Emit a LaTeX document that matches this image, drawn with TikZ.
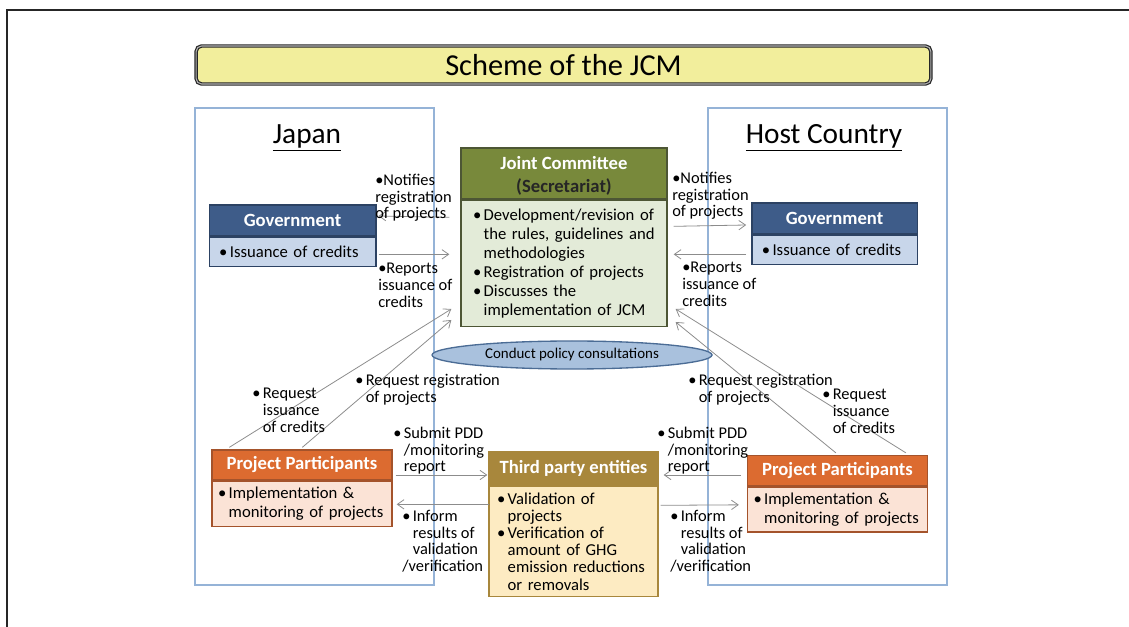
\documentclass[tikz,border=0pt]{standalone}
\usepackage{fontspec}
\setmainfont{Carlito}
\usepackage{tikz}
\usetikzlibrary{positioning, arrows.meta, shapes.geometric}

\definecolor{panelblue}{HTML}{95B3D7}
\definecolor{titleyellow}{HTML}{F2EE9C}
\definecolor{govdark}{HTML}{3E5C89}
\definecolor{govlight}{HTML}{C8D6EA}
\definecolor{govline}{HTML}{2C4263}
\definecolor{jcdark}{HTML}{78893B}
\definecolor{jclight}{HTML}{E3EBD8}
\definecolor{jcline}{HTML}{4D5635}
\definecolor{ellfill}{HTML}{A9C1DD}
\definecolor{ellline}{HTML}{4B6C95}
\definecolor{ppdark}{HTML}{DC6B30}
\definecolor{pplight}{HTML}{FBE3D6}
\definecolor{ppline}{HTML}{A4532B}
\definecolor{tpdark}{HTML}{A8873C}
\definecolor{tplight}{HTML}{FDEBC2}
\definecolor{arrowgray}{HTML}{8C8C8C}

\newcommand{\bl}{\textbullet\hspace{1.8pt}} % bullet of a list line
\newcommand{\hb}{\hphantom{\bl}} % hanging indent after a bullet

\tikzset{
x=0.75pt, y=-0.75pt, % one unit is one pixel of the slide
flow/.style={draw=arrowgray, line width=0.6pt, -{Straight Barb[length=5pt, width=7pt]}}, % thin gray arrows
panel/.style={draw=panelblue, line width=1.4pt}, % country frames
head/.style={draw, text=white, inner sep=0pt, line width=1pt, align=center, font=\fontsize{14}{17}\selectfont\bfseries}, % box titles
body/.style={draw, align=left, inner ysep=0pt, line width=1pt, font=\fontsize{12.5}{14.3}\selectfont}, % box contents
note/.style={anchor=north west, align=left, inner sep=0pt, font=\fontsize{12.3}{12.5}\selectfont}, % arrow labels
country/.style={font=\fontsize{22}{26}\selectfont}, % Japan / Host Country
}

\begin{document}
\begin{tikzpicture}
\useasboundingbox (0,0) rectangle (1129,627);

% slide frame and country panels
\draw[line width=2pt, black!85] (7,627) -- (7,10) -- (1129,10);
\draw[panel] (195,108) rectangle (434,585);
\draw[panel] (708,108) rectangle (947,585);

\node[draw=black!85, fill=titleyellow, line width=0.9pt, double=gray!60, double distance=0.8pt,
      rounded corners=4pt, minimum width=551pt, minimum height=28.5pt,
      font=\fontsize{22.8}{26}\selectfont] (title) at (563.5,65) {Scheme of the JCM};

\node[country] (japan) at (307,138) {\underline{Japan}};
\node[country] (host) at (824,138) {\underline{Host Country}};

% governments
\node[head, fill=govdark, draw=govline, minimum width=125pt, minimum height=23.25pt] (govLh) at (292.5,220.5) {Government};
\node[body, fill=govlight, draw=govline, text width=110pt, inner xsep=7.5pt, minimum height=21.75pt, below=0pt of govLh] (govLb) {\bl Issuance of credits};
\node[head, fill=govdark, draw=govline, minimum width=124pt, minimum height=23.25pt] (govRh) at (834.5,218.5) {Government};
\node[body, fill=govlight, draw=govline, text width=109pt, inner xsep=7.5pt, minimum height=21.75pt, below=0pt of govRh] (govRb) {\bl Issuance of credits};

% joint committee
\node[head, fill=jcdark, draw=jcline, minimum width=154.5pt, minimum height=38.25pt] (jcH) at (564,173.5) {\rule{0pt}{13pt}Joint Committee\\\textcolor{black!85}{(Secretariat)}};
\node[body, fill=jclight, draw=jcline, text width=136.5pt, inner xsep=9pt, minimum height=94.5pt, below=0pt of jcH] (jcB)
  {\bl Development/revision of\\\hb the rules, guidelines and\\\hb methodologies\\
   \bl Registration of projects\\\bl Discusses the\\\hb implementation of JCM};

\node[ellipse, draw=ellline, fill=ellfill, line width=1pt, minimum width=210pt, minimum height=21pt, inner sep=0pt,
      font=\fontsize{11.2}{13}\selectfont] (consult) at (572,355) {Conduct policy consultations};

% project participants
\node[head, fill=ppdark, draw=ppline, minimum width=135pt, minimum height=22.5pt] (ppLh) at (302,465) {Project Participants};
\node[body, fill=pplight, draw=ppline, text width=126pt, inner xsep=4.5pt, minimum height=33.75pt, below=0pt of ppLh] (ppLb)
  {\bl Implementation \&\\\hb monitoring of projects};
\node[head, fill=ppdark, draw=ppline, minimum width=135pt, minimum height=22.5pt] (ppRh) at (837.5,470.5) {Project Participants};
\node[body, fill=pplight, draw=ppline, text width=126pt, inner xsep=4.5pt, minimum height=33.75pt, below=0pt of ppRh] (ppRb)
  {\bl Implementation \&\\\hb monitoring of projects};

% third party entities
\node[head, fill=tpdark, draw=tpdark, minimum width=126.75pt, minimum height=24.75pt] (tpH) at (573.5,468.5) {Third party entities};
\node[body, fill=tplight, draw=tpdark, text width=114.75pt, inner xsep=6pt, minimum height=82.5pt,
      font=\fontsize{12.5}{12.9}\selectfont, below=0pt of tpH] (tpB)
  {\bl Validation of\\\hb projects\\\bl Verification of\\\hb amount of GHG\\\hb emission reductions\\\hb or removals};

% arrows between governments and joint committee
\draw[flow] ([shift={(-11,-46)}]jcB.west) -- ([shift={(2,-4.5)}]govLh.east);
\draw[flow] ([shift={(2,2.5)}]govLb.east) -- ([shift={(-11,-9)}]jcB.west);
\draw[flow] ([shift={(6,-37)}]jcB.east) -- ([shift={(-5,6.5)}]govRh.west);
\draw[flow] ([shift={(-5,4.5)}]govRb.west) -- ([shift={(6,-9)}]jcB.east);

% requests from participants
\draw[flow] ([shift={(18,-2)}]ppLh.north west) -- ([shift={(-9,-18)}]jcB.south west);
\draw[flow] ([shift={(91,-2)}]ppLh.north west) -- ([shift={(-9,-7)}]jcB.south west);
\draw[flow] ([shift={(89,-2)}]ppRh.north west) -- ([shift={(8,-5)}]jcB.south east);
\draw[flow] ([shift={(159,-2)}]ppRh.north west) -- ([shift={(8,-18)}]jcB.south east);

% participants and third party entities
\draw[flow] ([shift={(3,10)}]ppLh.east) -- ([shift={(-1,6.5)}]tpH.west);
\draw[flow] ([shift={(1,-37)}]tpB.west) -- ([shift={(4,0.5)}]ppLb.east);
\draw[flow] ([shift={(-6,4.5)}]ppRh.west) -- ([shift={(5,6.5)}]tpH.east);
\draw[flow] ([shift={(2,-36)}]tpB.east) -- ([shift={(-8,-4.5)}]ppRb.west);

% arrow labels
\node[note] (notifyL) at (375,174) {\textbullet Notifies\\registration\\of projects};
\node[note] (reportL) at (378,263) {\textbullet Reports\\issuance of\\credits};
\node[note] (notifyR) at (672,172) {\textbullet Notifies\\registration\\of projects};
\node[note] (reportR) at (682,262) {\textbullet Reports\\issuance of\\credits};
\node[note] (reqIssL) at (252,388) {\bl Request\\\hb issuance\\\hb of credits};
\node[note] (reqRegL) at (355,374) {\bl Request registration\\\hb of projects};
\node[note] (submitL) at (393,427) {\bl Submit PDD\\\hb /monitoring\\\hb report};
\node[note] (informL) at (402,510) {\bl Inform\\\hb results of\\\hb validation\\/verification};
\node[note] (reqRegR) at (688,374) {\bl Request registration\\\hb of projects};
\node[note] (reqIssR) at (822,389) {\bl Request\\\hb issuance\\\hb of credits};
\node[note] (submitR) at (657,427) {\bl Submit PDD\\\hb /monitoring\\\hb report};
\node[note] (informR) at (670,510) {\bl Inform\\\hb results of\\\hb validation\\/verification};
\end{tikzpicture}
\end{document}
